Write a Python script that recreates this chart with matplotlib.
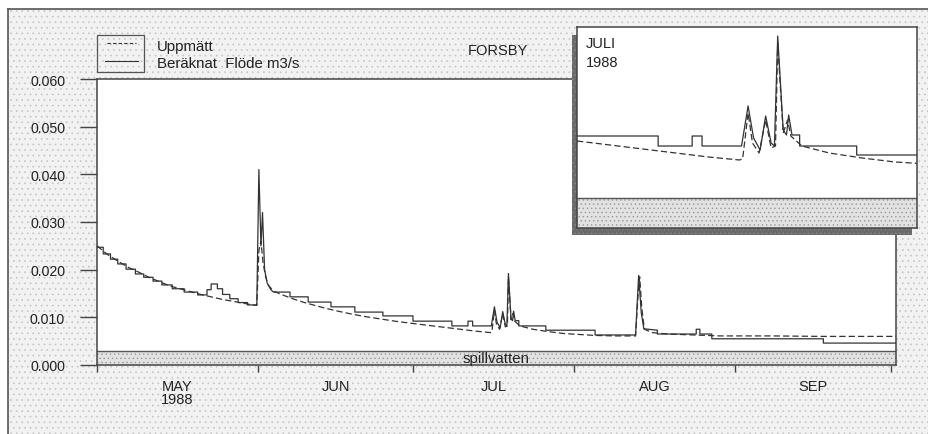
import matplotlib

matplotlib.use("Agg")
import matplotlib.pyplot as plt
from matplotlib.patches import Rectangle

plt.rcParams["font.family"] = ["Liberation Sans", "DejaVu Sans"]
plt.rcParams["hatch.linewidth"] = 0.5

# days counted from 1 May 1988
month_ticks = [0, 31, 61, 92, 123, 153]
month_labels = ["MAY\n1988", "JUN", "JUL", "AUG", "SEP"]
y_ticks = [0.0, 0.01, 0.02, 0.03, 0.04, 0.05, 0.06]

# Uppmätt (dashed)
meas_day = [0, 2, 4, 6, 8, 10, 12, 14, 16, 18, 20, 22, 24, 26, 28, 30, 30.8,
            31.2, 31.6, 32.0, 32.5, 33, 34, 36, 38, 40, 43, 46, 49, 52, 55, 58,
            61, 64, 67, 70, 73, 75.8, 76.1, 76.6, 77.0, 77.6, 78.2, 78.7, 79.1,
            79.3, 79.8, 80.2, 80.5, 81.5, 84, 87, 90, 93, 96, 100, 103.8, 104.3,
            104.6, 105.0, 105.5, 107, 110, 115, 120, 130, 140, 154]
meas_val = [0.0250, 0.0232, 0.0218, 0.0205, 0.0195, 0.0184, 0.0175, 0.0166,
            0.0160, 0.0154, 0.0148, 0.0143, 0.0138, 0.0134, 0.0130, 0.0126,
            0.0125, 0.0240, 0.0260, 0.0215, 0.0185, 0.0168, 0.0155, 0.0146,
            0.0138, 0.0131, 0.0122, 0.0114, 0.0107, 0.0101, 0.0096, 0.0091,
            0.0087, 0.0083, 0.0079, 0.0075, 0.0071, 0.0068, 0.0069, 0.0115,
            0.0085, 0.0075, 0.0108, 0.0080, 0.0082, 0.0185, 0.0095, 0.0108,
            0.0092, 0.0082, 0.0075, 0.0070, 0.0066, 0.0064, 0.0062, 0.0061,
            0.0061, 0.0150, 0.0185, 0.0120, 0.0075, 0.0068, 0.0065, 0.0063,
            0.0061, 0.0061, 0.0060, 0.0060]

# Beräknat (solid), vertices incl. steps
calc_day = [0, 1.2, 1.2, 2.6, 2.6, 4.0, 4.0, 5.6, 5.6, 7.4, 7.4, 9.0, 9.0,
            10.8, 10.8, 12.5, 12.5, 14.5, 14.5, 16.8, 16.8, 19.4, 19.4, 21.2,
            21.2, 22.0, 22.0, 23.2, 23.2, 24.2, 24.2, 25.6, 25.6, 27.2, 27.2,
            29.0, 29.0, 30.8, 31.2, 31.6, 31.9, 32.3, 32.8, 33.5, 34.0, 37.2,
            37.2, 40.7, 40.7, 45.1, 45.1, 49.7, 49.7, 55.1, 55.1, 60.9, 60.9,
            68.4, 68.4, 71.5, 71.5, 72.4, 72.4, 76.0, 76.6, 77.1, 77.7, 78.2,
            78.7, 79.0, 79.3, 79.8, 80.1, 80.3, 80.6, 81.3, 81.3, 86.5, 86.5,
            96.0, 96.0, 103.8, 104.4, 104.9, 105.4, 108.0, 108.0, 115.5, 115.5,
            116.2, 116.2, 118.5, 118.5, 140.0, 140.0, 154]
calc_val = [0.0247, 0.0247, 0.0233, 0.0233, 0.0222, 0.0222, 0.0212, 0.0212,
            0.0201, 0.0201, 0.0191, 0.0191, 0.0184, 0.0184, 0.0176, 0.0176,
            0.0168, 0.0168, 0.0160, 0.0160, 0.0153, 0.0153, 0.0147, 0.0147,
            0.0158, 0.0158, 0.0170, 0.0170, 0.0160, 0.0160, 0.0148, 0.0148,
            0.0139, 0.0139, 0.0131, 0.0131, 0.0126, 0.0126, 0.0410, 0.0250,
            0.0320, 0.0200, 0.0172, 0.0158, 0.0153, 0.0153, 0.0143, 0.0143,
            0.0132, 0.0132, 0.0122, 0.0122, 0.0111, 0.0111, 0.0103, 0.0103,
            0.0092, 0.0092, 0.0082, 0.0082, 0.0092, 0.0092, 0.0082, 0.0082,
            0.0122, 0.0090, 0.0078, 0.0112, 0.0085, 0.0082, 0.0192, 0.0098,
            0.0093, 0.0113, 0.0093, 0.0093, 0.0082, 0.0082, 0.0073, 0.0073,
            0.0063, 0.0063, 0.0188, 0.0110, 0.0076, 0.0073, 0.0065, 0.0065,
            0.0075, 0.0075, 0.0065, 0.0065, 0.0055, 0.0055, 0.0046, 0.0046]

spill_level = 0.003

ink = "#333333"
txt = "#222222"
dash = (0, (5, 2.5))
bg_face = "#f2f2f2"
dot_col = "#c6c6c6"

fig = plt.figure(figsize=(9.29, 4.35), dpi=100)
fig.patch.set_facecolor("white")

# background overlay in pixel coordinates
bg = fig.add_axes([0, 0, 1, 1], zorder=0)
bg.set_xlim(0, 929)
bg.set_ylim(435, 0)
bg.axis("off")
bg.add_patch(Rectangle((8, 10), 940, 440, facecolor=bg_face, edgecolor=dot_col,
                       hatch="...", linewidth=0))
bg.plot([8, 929], [10, 10], color="#555555", lw=1.2)
bg.plot([8, 8], [10, 435], color="#555555", lw=1.2)

# legend
bg.add_patch(Rectangle((97, 36), 47, 37, fill=False, edgecolor="#555555", lw=0.9))
bg.plot([107, 136], [44, 44], color=ink, lw=0.8, ls=(0, (3, 2)))
bg.plot([105, 138], [62, 62], color=ink, lw=0.8)
bg.text(157, 47, "Uppmätt", fontsize=10.8, va="center", color=txt)
bg.text(157, 64, "Beräknat  Flöde m3/s", fontsize=10.8, va="center", color=txt)
bg.text(498, 51, "FORSBY", fontsize=10.5, ha="center", va="center", color=txt)

# main axes
ax = fig.add_axes([97 / 929, 1 - 366 / 435, 799 / 929, 286 / 435], zorder=1)
ax.set_facecolor("white")
ax.fill_between([0, 154], 0, spill_level, facecolor="#e2e2e2", edgecolor="#9a9a9a",
                hatch="....", linewidth=0, zorder=1)
ax.axhline(spill_level, color="#555555", lw=1.0, zorder=2)
ax.text(77, spill_level / 2, "spillvatten", ha="center", va="center", fontsize=10.8,
        color=txt, zorder=3)
ax.plot(meas_day, meas_val, color=ink, lw=0.9, ls=dash, zorder=4)
ax.plot(calc_day, calc_val, color=ink, lw=0.9, zorder=5)
ax.set_xlim(0, 154)
ax.set_ylim(0, 0.06)
ax.set_yticks(y_ticks)
ax.set_yticklabels([f"{v:.3f}" for v in y_ticks])
ax.set_xticks(month_ticks)
ax.set_xticklabels([])
mids = [(a + b) / 2 for a, b in zip(month_ticks[:-1], month_ticks[1:])]
ax.set_xticks(mids, minor=True)
ax.set_xticklabels(month_labels, minor=True, linespacing=0.95)
ax.tick_params(axis="y", direction="out", length=12, width=1, pad=11,
               labelsize=10.2, colors="#444444", labelcolor=txt)
ax.tick_params(axis="x", which="major", direction="out", length=5, width=1,
               colors="#444444")
ax.tick_params(axis="x", which="minor", length=0, pad=10, labelsize=10.5,
               labelcolor=txt)
for s in ax.spines.values():
    s.set_color("#444444")
    s.set_linewidth(1.1)

# inset shadow
sh = fig.add_axes([0, 0, 1, 1], zorder=2)
sh.set_xlim(0, 929)
sh.set_ylim(435, 0)
sh.axis("off")
sh.add_patch(Rectangle((572, 36), 340, 200, facecolor="#6a6a6a", edgecolor="#888888",
                       hatch="....", linewidth=0))

# inset (July)
ins = fig.add_axes([577 / 929, 1 - 229 / 435, 340 / 929, 201 / 435], zorder=3)
ins.set_facecolor("white")
ins.fill_between([61, 92], 0, spill_level, facecolor="#e2e2e2", edgecolor="#9a9a9a",
                 hatch="....", linewidth=0, zorder=1)
ins.axhline(spill_level, color="#555555", lw=1.0, zorder=2)
ins.plot(meas_day, meas_val, color=ink, lw=0.9, ls=dash, zorder=4)
ins.plot(calc_day, calc_val, color=ink, lw=0.9, zorder=5)
ins.set_xlim(61, 92)
ins.set_ylim(0, 0.0201)
ins.set_xticks([])
ins.set_yticks([])
for s in ins.spines.values():
    s.set_color("#444444")
    s.set_linewidth(1.1)
ins.text(0.025, 0.92, "JULI", transform=ins.transAxes, fontsize=10.5, va="center",
         color=txt)
ins.text(0.025, 0.825, "1988", transform=ins.transAxes, fontsize=10.5, va="center",
         color=txt)

fig.savefig("out.png", dpi=100)
